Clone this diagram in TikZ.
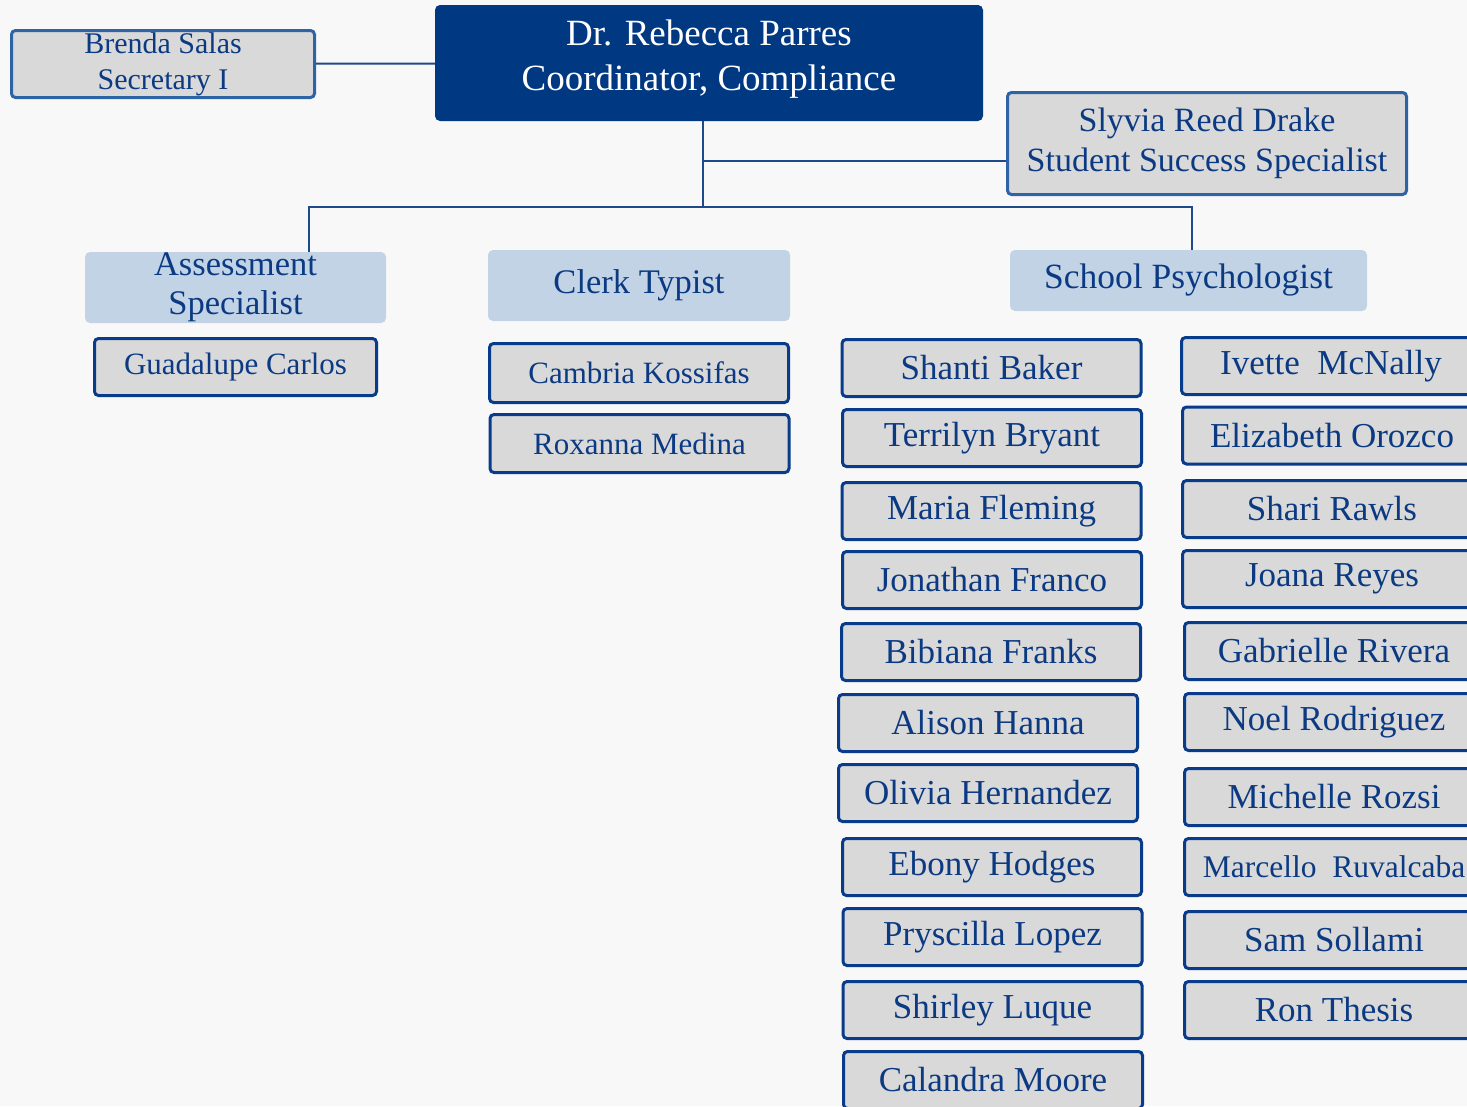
\documentclass[tikz,border=0pt]{standalone}
\usepackage{fontspec}
\setmainfont{Liberation Serif}
\definecolor{marine}{HTML}{003882}
\definecolor{bleutexte}{HTML}{0B3A83}
\definecolor{bleubord}{HTML}{083C8A}
\definecolor{bleuclair}{HTML}{2E63A6}
\definecolor{bleulien}{HTML}{1F4A8A}
\definecolor{grisboite}{HTML}{D9D9D9}
\definecolor{bleuposte}{HTML}{C2D3E6}
\definecolor{fond}{HTML}{F8F8F8}
\tikzset{
  boite/.style={inner sep=0pt,align=center,text=bleutexte},
  chef/.style={boite,fill=marine,text=white,rounded corners=5pt,
    font=\fontsize{37}{45}\selectfont},
  adjoint/.style={boite,draw=bleuclair,line width=3pt,fill=grisboite,
    rounded corners=4pt},
  poste/.style={boite,fill=bleuposte,rounded corners=5pt,
    font=\fontsize{34.5}{39}\selectfont},
  personne/.style={boite,draw=bleubord,line width=3pt,fill=grisboite,
    rounded corners=4pt,minimum width=299pt,minimum height=57pt,
    font=\fontsize{35}{38}\selectfont},
  lien/.style={draw=bleulien,line width=2pt}
}
\begin{document}
\begin{tikzpicture}[x=1pt,y=-1pt]
\useasboundingbox (0,0) rectangle (1467,1106);
\clip (0,0) rectangle (1467,1106);
\fill[fond] (0,0) rectangle (1467,1106);
% direction
\node[chef,minimum width=548pt,minimum height=116pt,text depth=16pt] (coord) at (709,63)
  {Dr. Rebecca Parres\\Coordinator, Compliance};
\node[adjoint,minimum width=303pt,minimum height=67pt,
  font=\fontsize{30}{36}\selectfont] (brenda) at (163,64)
  {Brenda Salas\\Secretary I};
\node[adjoint,minimum width=399pt,minimum height=102pt,
  font=\fontsize{34}{40}\selectfont] (slyvia) at (1207,143.5)
  {Slyvia Reed Drake\\Student Success Specialist};
% postes
\node[poste,minimum width=301pt,minimum height=71pt] (assess) at (235.5,287.5)
  {Assessment\\Specialist};
\node[poste,minimum width=302pt,minimum height=71pt] (clerk) at (639,285.5)
  {Clerk Typist};
\node[poste,minimum width=357pt,minimum height=61pt,
  font=\fontsize{35.5}{39}\selectfont] (psycho) at (1188.5,280.5)
  {School Psychologist};
% liens
\coordinate (branche) at (0,161);
\coordinate (barre) at (703,207);
\coordinate (gauche) at (309,207);
\coordinate (droite) at (1192,207);
\draw[lien] (brenda) -- (coord);
\draw[lien] (coord.south -| barre) -- (barre);
\draw[lien] (barre |- branche) -- (slyvia.west |- branche);
\draw[lien] (assess.north -| gauche) -- (gauche) -- (droite) -- (psycho.north -| droite);
% personnel
\node[personne,minimum width=282pt,font=\fontsize{31}{34}\selectfont]
  (guadalupe) at (235.5,367) {Guadalupe Carlos};
\node[personne,minimum height=59pt,font=\fontsize{31}{34}\selectfont]
  (cambria) at (639,373) {Cambria Kossifas};
\node[personne,minimum height=58pt,font=\fontsize{31}{34}\selectfont]
  (roxanna) at (639.5,443.5) {Roxanna Medina};
\foreach \x/\y/\nom [count=\i] in {991.5/368/Shanti Baker,
    992/438/Terrilyn Bryant, 991.5/511/Maria Fleming,
    992/580/Jonathan Franco, 991/652/Bibiana Franks,
    988/723/Alison Hanna, 988/793/Olivia Hernandez,
    992/867/Ebony Hodges, 992.5/937/Pryscilla Lopez,
    992.5/1010/Shirley Luque, 993/1080/Calandra Moore}
  \node[personne] (psyA\i) at (\x,\y) {\nom};
\foreach \x/\y/\nom [count=\i] in {1331/366/Ivette\ \ McNally,
    1332/435.5/Elizabeth Orozco, 1332/509/Shari Rawls,
    1332/579/Joana Reyes, 1334/651/Gabrielle Rivera,
    1334/722/Noel Rodriguez, 1334/797/Michelle Rozsi,
    1334/867/{\fontsize{31.5}{34}\selectfont Marcello\ \ Ruvalcaba},
    1334/940/Sam Sollami, 1334/1010/Ron Thesis}
  \node[personne] (psyB\i) at (\x,\y) {\nom};
\end{tikzpicture}
\end{document}
